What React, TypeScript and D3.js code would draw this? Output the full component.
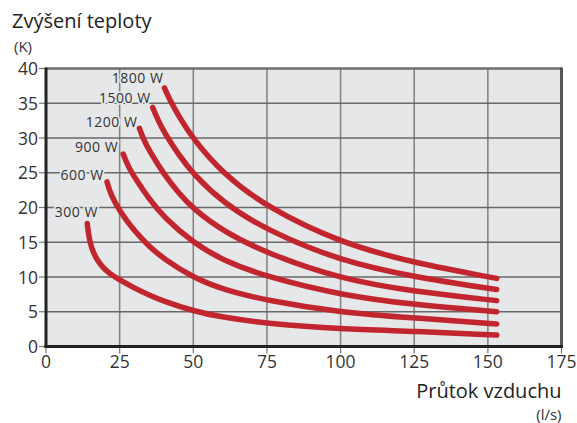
import React from "react";
import * as d3 from "d3";

const xTicks = [0, 25, 50, 75, 100, 125, 150, 175];
const yTicks = [0, 5, 10, 15, 20, 25, 30, 35, 40];
const seriesNames = ["300 W", "600 W", "900 W", "1200 W", "1500 W", "1800 W"];

const s300: [number, number][] = [[14, 17.7], [14.6, 15.6], [15.6, 14.0], [17, 12.7], [19, 11.5], [21.5, 10.5], [25, 9.6], [30, 8.4], [35, 7.4], [40, 6.5], [50, 5.1], [60, 4.2], [75, 3.3], [100, 2.5], [125, 2.2], [153, 1.65]];
const s600: [number, number][] = [[20.7, 23.7], [22, 21.8], [25, 19.5], [30, 16.6], [35, 14.4], [40, 12.6], [50, 9.9], [60, 8.2], [75, 6.6], [100, 4.9], [125, 4.1], [153, 3.25]];
const s900: [number, number][] = [[26.2, 27.7], [28, 25.8], [30, 24.4], [35, 21.2], [40, 18.6], [50, 14.9], [60, 12.4], [75, 10.0], [100, 7.4], [125, 6.0], [153, 5.0]];
const s1200: [number, number][] = [[31.7, 31.4], [33, 29.9], [35, 28.2], [40, 24.8], [45, 22.1], [50, 19.8], [60, 16.6], [75, 13.4], [100, 9.7], [125, 7.9], [153, 6.6]];
const s1500: [number, number][] = [[36.2, 34.4], [38, 32.6], [40, 30.9], [45, 27.6], [50, 24.8], [60, 20.7], [75, 16.7], [100, 12.3], [125, 10.0], [153, 8.2]];
const s1800: [number, number][] = [[40.2, 37.2], [42, 35.5], [45, 33.2], [50, 29.8], [60, 24.9], [75, 20.0], [100, 14.9], [125, 12.0], [153, 9.8]];
const seriesData = [s300, s600, s900, s1200, s1500, s1800];

const W = 577, H = 423;
const L = 46, R = 561.5, T = 68.5, B = 346.5;
const FONT = "'Open Sans', 'Noto Sans', sans-serif";
const BG = "#e6e7e8";
const LABEL_DX = [10.7, -3.3, -5, -2, -2, -1];
const LABEL_DY = [-6.6, -1.6, -1.7, -1.6, -4.4, -4.8];

export default function App() {
  const x = d3.scaleLinear().domain([0, 175]).range([L, R]);
  const y = d3.scaleLinear().domain([0, 40]).range([B, T]);
  const line = d3.line<[number, number]>().x(d => x(d[0])).y(d => y(d[1])).curve(d3.curveBasis);

  return (
    <svg width={W} height={H} style={{ position: "absolute", left: 0, top: 0 }} fontFamily={FONT}>
      <rect x={0} y={0} width={W} height={H} fill="#fff" />
      <rect x={L} y={T} width={R - L} height={B - T} fill={BG} />
      {xTicks.filter(t => t > 0 && t < 175).map(t => (
        <line key={"vx" + t} x1={x(t)} x2={x(t)} y1={T} y2={B} stroke="#858585" strokeWidth={1.6} />
      ))}
      {yTicks.filter(t => t > 0 && t < 40).map(t => (
        <line key={"hy" + t} x1={L} x2={R} y1={y(t)} y2={y(t)} stroke="#686868" strokeWidth={1.6} />
      ))}
      {yTicks.map(t => (
        <line key={"ty" + t} x1={L - 7} x2={L} y1={y(t)} y2={y(t)} stroke="#777" strokeWidth={1.2} />
      ))}
      {xTicks.map(t => (
        <line key={"tx" + t} x1={x(t)} x2={x(t)} y1={B} y2={B + 7} stroke="#777" strokeWidth={1.2} />
      ))}
      <line x1={L} x2={R} y1={T} y2={T} stroke="#6e6e6e" strokeWidth={2.5} />
      <line x1={R} x2={R} y1={T - 1} y2={B} stroke="#555" strokeWidth={3} />
      <line x1={L} x2={L} y1={T - 1} y2={B + 1.5} stroke="#222" strokeWidth={3} />
      <line x1={L - 1.5} x2={R + 1.5} y1={B} y2={B} stroke="#222" strokeWidth={3} />
      {seriesData.map((d, i) => {
        const sx = x(d[0][0]);
        const sy = y(d[0][1]);
        return (
          <text key={"lab" + i} x={sx + LABEL_DX[i]} y={sy + LABEL_DY[i]} textAnchor="end" fontSize={14} letterSpacing={0.5} fill="#333"
            stroke={BG} strokeWidth={3.5} paintOrder="stroke" strokeLinejoin="round">{seriesNames[i]}</text>
        );
      })}
      {seriesData.map((d, i) => (
        <path key={"c" + i} d={line(d) || ""} fill="none" stroke="#c1262e" strokeWidth={5.5} strokeLinecap="round" />
      ))}
      {yTicks.map(t => (
        <text key={"yl" + t} x={L - 8} y={y(t) + 6.5} textAnchor="end" fontSize={17.5} fill="#333">{t}</text>
      ))}
      {xTicks.map(t => (
        <text key={"xl" + t} x={x(t)} y={368} textAnchor="middle" fontSize={17.5} fill="#333">{t}</text>
      ))}
      <text x={12} y={28} fontSize={20} fill="#222">Zvýšení teploty</text>
      <text x={14} y={52} fontSize={15} fill="#333">(K)</text>
      <text x={R} y={398} textAnchor="end" fontSize={20} fill="#222">Průtok vzduchu</text>
      <text x={R} y={420} textAnchor="end" fontSize={15} fill="#333">(l/s)</text>
    </svg>
  );
}
